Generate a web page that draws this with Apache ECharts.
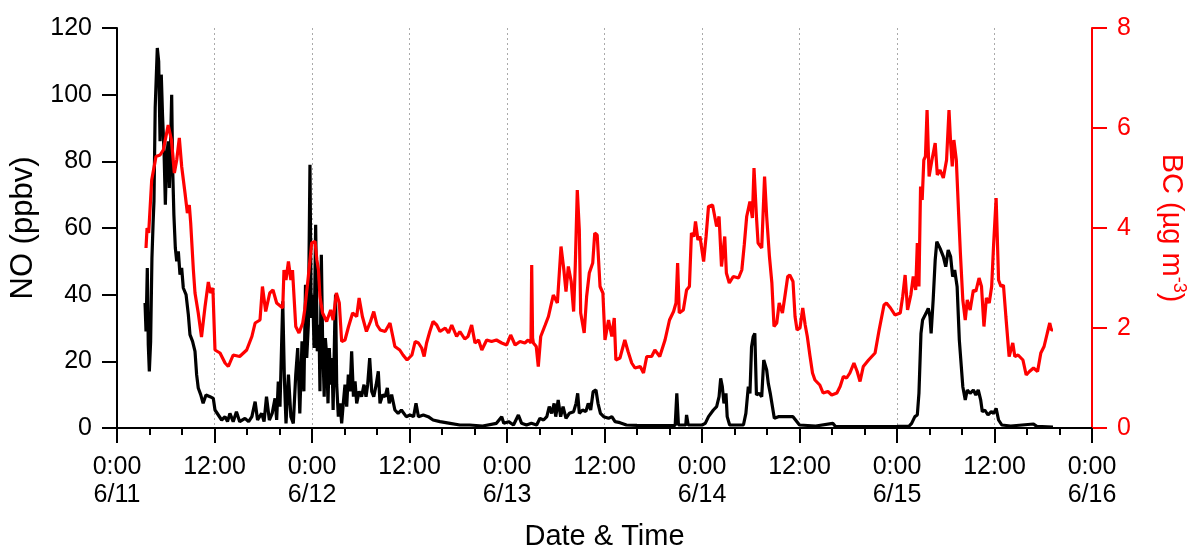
<!DOCTYPE html>
<html>
<head>
<meta charset="utf-8">
<script src="https://cdn.jsdelivr.net/npm/echarts@6/dist/echarts.min.js"></script>
<style>
  html, body { margin: 0; padding: 0; background: #fff; }
  #chart { width: 1202px; height: 552px; }
</style>
</head>
<body>
<div id="chart"></div>
<script>
// hours since 6/11 0:00
var noHours = [3.45,3.57,3.73,3.85,3.98,4.14,4.3,4.45,4.55,4.7,4.96,5.13,5.3,5.45,5.6,5.8,5.95,6.1,6.3,6.44,6.6,6.73,6.85,7.0,7.18,7.35,7.55,7.75,7.96,8.16,8.5,8.78,8.98,9.3,9.6,9.8,10.0,10.3,10.6,10.95,11.45,11.85,12.06,12.47,12.88,13.3,13.6,13.9,14.3,14.7,15.1,15.75,16.2,16.6,17.0,17.3,17.8,18.1,18.4,18.75,19.1,19.45,19.65,19.85,20.06,20.4,20.6,20.8,21.1,21.4,21.7,22.0,22.24,22.5,22.77,23.0,23.2,23.35,23.55,23.75,23.9,24.1,24.25,24.45,24.65,24.86,24.98,25.15,25.3,25.5,25.64,25.8,25.97,26.13,26.3,26.46,26.6,26.8,26.9,27.04,27.24,27.45,27.65,27.85,28.06,28.27,28.47,28.68,28.88,29.1,29.3,29.5,29.8,30.1,30.4,30.65,30.85,31.1,31.35,31.6,31.9,32.16,32.37,32.7,33.0,33.27,33.5,33.8,34.2,34.6,35.0,35.6,36.06,36.5,36.8,37.1,37.7,38.3,38.9,39.75,41,42.2,43.4,45,46.7,47.35,47.6,48.2,48.8,49.4,49.8,50.4,51.0,51.65,52.06,52.5,52.9,53.2,53.5,53.8,54.0,54.3,54.6,54.9,55.26,55.67,56.2,56.5,56.7,56.9,57.3,57.7,58.0,58.3,58.6,58.95,59.2,59.5,59.9,60.5,60.9,61.3,61.9,62.7,64,66,68.7,68.9,69.1,70.0,70.1,70.3,72.0,72.4,72.8,73.4,73.8,74.1,74.3,74.5,74.7,74.95,75.1,75.4,77.1,77.4,77.7,77.9,78.1,78.3,78.5,78.7,79.0,79.35,79.6,79.96,80.16,80.4,80.6,80.9,81.4,82.0,82.6,83.2,84.0,86,88.1,88.4,92,96,97.5,97.8,98.2,98.5,98.7,98.95,99.15,99.57,99.85,100.06,100.2,100.45,100.7,100.9,101.3,101.7,102.0,102.3,102.6,102.85,103.1,103.4,103.67,103.85,104.1,104.4,104.65,105.0,105.4,105.7,106.0,106.3,106.5,106.8,107.2,107.6,107.9,108.2,108.5,108.9,110,112.8,113.2,115.2];
var noValues = [37.5,29,48,25,17,26,51,62,68,96,114,110,86,106,94,82,67,81,86,72,86,100,78,64,54,50,53,46,48,42,40,34,28,26,23,16,12,10,7.4,9.9,9.4,8.9,5.4,3.9,2.4,3.4,1.9,4.4,1.9,4.9,1.9,2.9,1.9,3.4,7.9,2.4,4.4,1.9,9.4,2.4,4.4,8.9,2.4,13.9,6.4,38,15,1.4,16,3.4,1.4,16,24,4.4,26,11,43,21,31,79,33,40,24,61,23,31,11,52,27,9.4,27,22,7.4,24,13,21,5.4,31,40,13,3.4,7.4,1.4,7.4,13,6.4,16,11,23,9.4,14,7.4,11,9.4,13,9.4,13,21,11,9.4,13,17,7.4,10,9.4,12,7.4,10,5.4,4.4,5.4,3.4,3.9,3.4,7.4,3.4,3.9,3.4,2.4,1.9,1.4,0.9,0.9,0.6,1.4,3.4,1.4,1.9,0.9,3.9,1.4,0.9,1.4,0.9,2.9,2.4,3.4,6.4,4.4,7.4,3.4,8.4,3.4,6.4,2.9,4.4,4.9,7.4,10.4,4.4,5.4,4.9,7.4,5.4,10.9,11.4,7.4,4.4,3.4,2.9,3.4,1.9,1.6,0.9,0.8,0.7,0.8,10.4,0.9,0.9,3.9,0.9,0.9,1.4,3.4,5.4,6.4,9.4,14.9,12.4,7.4,10.4,3.4,0.9,0.9,4.4,12.4,10.4,24.4,27.4,28.4,9.9,10.4,9.4,20.4,17.4,13.4,10.4,7.4,2.9,3.4,3.4,3.4,3.4,0.9,0.6,1.4,0.5,0.4,0.5,0.6,1.4,3.4,3.9,10.4,28.4,32.4,34.4,35.9,33.4,28.4,38.4,50.4,55.9,53.9,51.4,48.4,53.4,51.4,45.4,47.4,42.4,26.4,26.4,12.4,8.4,11.4,10.4,11.4,9.9,11.4,8.4,4.9,5.4,3.9,4.9,4.4,5.9,2.4,0.9,0.6,1.2,0.5,0.3];

var bcHours = [3.57,3.7,3.9,4.27,4.5,4.8,5.3,5.7,6.3,6.7,7.06,7.35,7.67,7.96,8.37,8.66,8.9,9.07,9.4,9.6,10.0,10.4,10.83,11.24,11.5,11.8,12.06,12.68,13.3,13.7,14.3,15.1,15.96,16.6,17.0,17.6,17.9,18.3,18.8,19.2,19.65,20.4,20.55,20.8,21.1,21.4,21.6,22.0,22.4,22.86,23.1,23.55,23.96,24.37,24.6,24.8,24.98,25.3,25.8,26.3,26.6,27.0,27.36,27.65,28.06,28.5,29.0,29.5,29.8,30.2,30.7,31.2,31.6,32.0,32.4,33.0,33.6,34.2,34.8,35.2,35.7,36.3,36.7,37.1,37.5,37.8,38.1,38.5,38.9,39.35,39.75,40.4,40.8,41.2,41.8,42.2,42.8,43.2,43.65,44.06,44.5,44.9,45.5,46.1,46.7,47.35,47.96,48.45,49.0,49.6,50.2,50.6,50.95,51.04,51.15,51.25,51.6,51.85,52.15,52.7,53.1,53.7,54.2,54.65,55.0,55.26,55.55,55.9,56.2,56.4,56.65,56.9,57.07,57.5,57.8,58.13,58.55,58.8,59.1,59.45,59.8,60.06,60.5,60.9,61.2,61.4,61.9,62.5,62.9,63.35,63.75,64.4,64.8,65.2,65.8,66.2,66.8,67.45,68.0,68.5,68.8,69.0,69.2,69.7,70.1,70.45,70.7,71.0,71.2,71.5,71.75,72.2,72.5,72.8,73.3,73.8,74.1,74.4,74.8,75.0,75.36,75.85,76.5,76.9,77.2,77.5,77.9,78.2,78.4,78.7,78.9,79.35,79.7,79.96,80.3,80.6,80.86,81.2,81.5,81.9,82.2,82.55,82.8,83.2,83.45,83.7,84.06,84.4,84.7,84.96,85.3,85.6,85.9,86.5,86.9,87.5,87.96,88.6,89.0,89.4,89.8,90.2,90.7,91.1,91.45,91.85,92.5,93.3,93.8,94.4,94.7,95.2,95.75,96.4,96.7,97.0,97.3,97.7,98.0,98.3,98.5,98.7,98.9,99.1,99.3,99.5,99.7,99.95,100.3,100.7,100.96,101.3,101.7,102.1,102.4,102.6,102.8,103.0,103.3,103.6,103.8,104.1,104.4,104.65,105.0,105.4,105.7,106.1,106.4,106.7,107.0,107.35,107.65,107.9,108.2,108.5,108.8,109.1,109.4,109.8,110.25,110.5,110.9,111.5,111.9,112.3,112.8,113.3,113.7,114.1,114.5,114.8,115.0,115.2];
var bcValues = [3.6,4.0,3.9,4.96,5.0,5.43,5.46,5.56,6.06,5.76,5.1,5.36,5.8,5.23,4.7,4.3,4.46,4.1,3.16,2.7,2.3,1.82,2.42,2.92,2.7,2.8,1.56,1.5,1.3,1.23,1.46,1.43,1.56,1.83,2.1,2.16,2.83,2.33,2.7,2.76,2.5,2.4,3.16,2.96,3.33,2.96,3.16,2.03,1.9,2.1,2.36,3.03,3.7,3.73,3.36,3.16,2.63,2.3,2.13,2.36,2.16,2.7,2.5,1.73,1.76,2.03,2.3,2.23,2.6,2.23,1.93,2.13,2.33,2.06,1.96,1.93,2.1,1.63,1.56,1.46,1.36,1.46,1.73,1.7,1.6,1.43,1.7,1.93,2.13,2.06,1.93,2.0,1.9,2.06,1.83,1.93,1.78,1.83,2.06,1.7,1.76,1.56,1.76,1.73,1.76,1.7,1.66,1.86,1.66,1.73,1.7,1.76,1.7,3.26,1.8,1.7,1.63,1.23,1.83,2.06,2.23,2.66,2.5,3.63,3.16,2.73,3.23,2.93,2.33,3.23,4.76,3.96,2.3,1.9,2.63,3.1,3.3,3.9,3.86,2.83,2.7,1.76,2.16,1.83,2.2,1.36,1.4,1.76,1.53,1.3,1.2,1.23,1.1,1.43,1.43,1.56,1.43,1.76,2.16,2.33,2.5,3.3,2.3,2.36,2.76,2.83,3.9,3.83,4.13,3.76,3.83,3.33,3.83,4.43,4.46,4.03,4.23,3.23,3.83,3.1,2.9,3.03,3.0,3.16,3.66,4.23,4.53,4.2,5.2,4.23,3.7,3.6,5.03,4.23,3.43,2.9,2.03,2.1,2.5,2.3,2.63,3.03,3.06,2.93,2.23,1.96,2.0,2.4,2.06,1.83,1.43,1.1,0.96,0.86,0.7,0.73,0.66,0.7,0.83,1.03,1.0,1.1,1.3,1.13,0.93,1.23,1.36,1.5,1.96,2.46,2.5,2.4,2.26,2.3,2.63,3.06,2.36,2.66,3.03,2.76,3.7,2.83,4.83,4.56,5.36,5.43,6.36,5.03,5.36,5.7,5.06,5.16,5.0,5.36,6.36,5.7,5.23,5.76,5.36,4.23,3.5,2.56,2.16,2.56,2.36,2.76,2.73,3.0,2.83,2.03,2.6,2.5,2.83,3.7,4.6,2.96,2.83,2.86,2.23,1.43,1.7,1.43,1.46,1.36,1.06,1.13,1.2,1.13,1.5,1.63,1.9,2.1,1.96,1.96];

var dayLabels = ['6/11', '6/12', '6/13', '6/14', '6/15', '6/16'];

function pairs(xs, ys) {
  return xs.map(function (x, i) { return [x, ys[i]]; });
}

var chart = echarts.init(document.getElementById('chart'));
var font = 'Liberation Sans, Arial, sans-serif';

var option = {
  animation: false,
  textStyle: { fontFamily: font },
  grid: { left: 117, right: 110, top: 28, bottom: 124, outerBoundsMode: 'none', containLabel: false },
  xAxis: {
    type: 'value',
    min: 0,
    max: 120,
    interval: 12,
    name: 'Date & Time',
    nameLocation: 'middle',
    nameGap: 94,
    nameTextStyle: { color: '#000', fontSize: 29, fontFamily: font },
    axisLine: { onZero: false, lineStyle: { color: '#000', width: 2 } },
    axisTick: { length: 15, lineStyle: { color: '#000', width: 2 } },
    minorTick: { show: true, splitNumber: 3, length: 7, lineStyle: { color: '#000', width: 2 } },
    axisLabel: {
      color: '#000',
      fontSize: 25,
      lineHeight: 28,
      margin: 25,
      fontFamily: font,
      formatter: function (v) {
        if (v % 24 === 0) return '0:00\n' + dayLabels[v / 24];
        return '12:00';
      }
    },
    splitLine: { show: true, lineStyle: { color: '#aaa', width: 1, type: [2, 3] } }
  },
  yAxis: [
    {
      type: 'value',
      min: 0,
      max: 120,
      interval: 20,
      name: 'NO (ppbv)',
      nameLocation: 'middle',
      nameGap: 76,
      nameTextStyle: { color: '#000', fontSize: 31, fontFamily: font },
      axisLine: { show: true, lineStyle: { color: '#000', width: 2 } },
      axisTick: { show: true, length: 15, lineStyle: { color: '#000', width: 2 } },
      axisLabel: { color: '#000', fontSize: 25, margin: 25, fontFamily: font },
      splitLine: { show: false }
    },
    {
      type: 'value',
      min: 0,
      max: 8,
      interval: 2,
      position: 'right',
      name: 'BC (µg m{sup|-3})',
      nameLocation: 'middle',
      nameRotate: -90,
      nameGap: 62,
      nameTextStyle: {
        color: '#ff0000', fontSize: 29, lineHeight: 34, fontFamily: font,
        rich: { sup: { color: '#ff0000', fontSize: 18, verticalAlign: 'top', fontFamily: font } }
      },
      axisLine: { show: true, lineStyle: { color: '#ff0000', width: 2 } },
      axisTick: { show: true, length: 15, lineStyle: { color: '#ff0000', width: 2 } },
      axisLabel: { color: '#ff0000', fontSize: 25, margin: 25, fontFamily: font },
      splitLine: { show: false }
    }
  ],
  series: [
    {
      name: 'NO',
      type: 'line',
      yAxisIndex: 0,
      data: pairs(noHours, noValues),
      showSymbol: false,
      lineStyle: { color: '#000', width: 3.2 },
      z: 2
    },
    {
      name: 'BC',
      type: 'line',
      yAxisIndex: 1,
      data: pairs(bcHours, bcValues),
      showSymbol: false,
      lineStyle: { color: '#ff0000', width: 3.2 },
      z: 3
    }
  ]
};

chart.setOption(option);
</script>
</body>
</html>
